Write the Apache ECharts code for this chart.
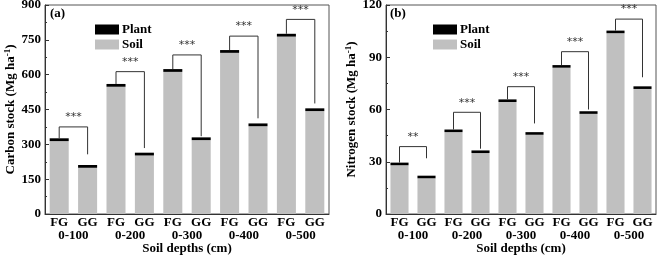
<!DOCTYPE html>
<html>
<head>
<meta charset="utf-8">
<script src="https://cdn.jsdelivr.net/npm/echarts@6/dist/echarts.min.js"></script>
<style>
  html, body { margin: 0; padding: 0; background: #fff; }
  #main { width: 658px; height: 255px; }
</style>
</head>
<body>
<div id="main"></div>
<script>
// 数据
var treatments = ['FG', 'GG', 'FG', 'GG', 'FG', 'GG', 'FG', 'GG', 'FG', 'GG'];
var depths = ['0-100', '0-200', '0-300', '0-400', '0-500'];
var seriesNames = ['Plant', 'Soil'];

// carbon (Mg ha-1)
var carbonTotal = [326, 211, 560, 264, 624, 330, 706, 390, 776, 455];
var carbonPlant = [12, 12, 12, 12, 12, 12, 12, 12, 12, 12];
var carbonBracketTop = [375, 613, 685, 766, 838];
var carbonBracketEnd = [257, 284, 335, 412, 476];
var carbonSig = ['***', '***', '***', '***', '***'];

// nitrogen (Mg ha-1)
var nitrogenTotal = [29.5, 22, 48.5, 36.5, 65.8, 47, 85.5, 59, 105.3, 73.3];
var nitrogenPlant = [1.5, 1.5, 1.5, 1.5, 1.5, 1.5, 1.5, 1.5, 1.5, 1.5];
var nitrogenBracketTop = [38.7, 58.4, 73.1, 93.2, 111.9];
var nitrogenBracketEnd = [32, 37.5, 52, 60, 78.5];
var nitrogenSig = ['**', '***', '***', '***', '***'];

var FONT = 'Liberation Serif';
var SOIL = '#c0c0c0';
var PLANT = '#000000';

function soilOf(total, plant) {
  return total.map(function (t, i) { return +(t - plant[i]).toFixed(2); });
}

function bracketData(total, top, end) {
  return depths.map(function (d, i) {
    return [2 * i, 2 * i + 1, total[2 * i], top[i], end[i]];
  });
}

function bracketSeries(idx, data, sig) {
  return {
    type: 'custom',
    xAxisIndex: idx * 2,
    yAxisIndex: idx,
    silent: true,
    z: 5,
    data: data,
    renderItem: function (params, api) {
      var p0 = api.coord([api.value(0), api.value(2)]);
      var p1 = api.coord([api.value(0), api.value(3)]);
      var p2 = api.coord([api.value(1), api.value(3)]);
      var p3 = api.coord([api.value(1), api.value(4)]);
      return {
        type: 'group',
        children: [
          {
            type: 'polyline',
            shape: { points: [p0, p1, p2, p3] },
            style: { stroke: '#333', lineWidth: 1, fill: null }
          },
          {
            type: 'text',
            x: (p1[0] + p2[0]) / 2,
            y: p1[1] - 4,
            style: {
              text: sig[params.dataIndex],
              fill: '#333',
              font: '11px "DejaVu Sans"',
              align: 'center',
              verticalAlign: 'bottom'
            }
          }
        ]
      };
    }
  };
}

var grids = [
  { left: 45, width: 284, top: 5, height: 209 },
  { left: 386, width: 270, top: 5, height: 209 }
];

function xAxes(gridIndex) {
  return [
    {
      type: 'category',
      gridIndex: gridIndex,
      data: treatments,
      axisLine: { lineStyle: { color: '#333', width: 1 } },
      axisTick: { show: false },
      axisLabel: { color: '#000', fontFamily: FONT, fontWeight: 'bold', fontSize: 13, margin: 2 }
    },
    {
      type: 'category',
      gridIndex: gridIndex,
      data: depths,
      position: 'bottom',
      offset: 13,
      axisLine: { show: false },
      axisTick: { show: false },
      axisLabel: { color: '#000', fontFamily: FONT, fontWeight: 'bold', fontSize: 13, margin: 2 },
      name: 'Soil depths (cm)',
      nameLocation: 'middle',
      nameGap: 15,
      nameMoveOverlap: false,
      nameTextStyle: { color: '#000', fontFamily: FONT, fontWeight: 'bold', fontSize: 13 }
    }
  ];
}

function yAxis(gridIndex, max, interval, label) {
  return {
    type: 'value',
    gridIndex: gridIndex,
    min: 0,
    max: max,
    interval: interval,
    axisLine: { show: true, lineStyle: { color: '#333', width: 1 } },
    axisTick: { show: true, inside: true, length: 4, lineStyle: { color: '#333' } },
    minorTick: { show: true, splitNumber: 2, length: 2, lineStyle: { color: '#333' } },
    splitLine: { show: false },
    axisLabel: { color: '#000', fontFamily: FONT, fontWeight: 'bold', fontSize: 13, margin: 4 },
    name: '{a|' + label + ' (Mg ha}{s|-1}{a|)}',
    nameLocation: 'middle',
    nameRotate: 90,
    nameGap: 27,
    nameMoveOverlap: false,
    nameTextStyle: {
      rich: {
        a: { color: '#000', fontFamily: FONT, fontWeight: 'bold', fontSize: 13 },
        s: { color: '#000', fontFamily: FONT, fontWeight: 'bold', fontSize: 9, verticalAlign: 'top', padding: [0, 0, 6, 0] }
      }
    }
  };
}

function barSeries(idx, soil, plant) {
  return [
    {
      name: 'Soil', type: 'bar', stack: 's' + idx,
      xAxisIndex: idx * 2, yAxisIndex: idx,
      barWidth: '67%',
      itemStyle: { color: SOIL },
      data: soil
    },
    {
      name: 'Plant', type: 'bar', stack: 's' + idx,
      xAxisIndex: idx * 2, yAxisIndex: idx,
      barWidth: '67%',
      itemStyle: { color: PLANT },
      data: plant
    }
  ];
}

function legend(left) {
  return {
    left: left, top: 18,
    orient: 'vertical',
    data: seriesNames,
    icon: 'rect',
    itemWidth: 24, itemHeight: 10, itemGap: 2,
    selectedMode: false,
    textStyle: { color: '#000', fontFamily: FONT, fontWeight: 'bold', fontSize: 13, padding: [0, 0, 0, -2] }
  };
}

var chart = echarts.init(document.getElementById('main'), null, { renderer: 'canvas' });
chart.setOption({
  animation: false,
  backgroundColor: '#fff',
  grid: grids.map(function (g) {
    return Object.assign({
      show: true, borderColor: '#555', borderWidth: 1, backgroundColor: 'transparent',
      containLabel: false, outerBoundsMode: 'none'
    }, g);
  }),
  legend: [legend(90), legend(428)],
  xAxis: xAxes(0).concat(xAxes(1)),
  yAxis: [
    yAxis(0, 900, 150, 'Carbon stock'),
    yAxis(1, 120, 30, 'Nitrogen stock')
  ],
  graphic: [
    { type: 'text', left: 50, top: 7, style: { text: '(a)', font: 'bold 13px "Liberation Serif"', fill: '#000' } },
    { type: 'text', left: 390, top: 7, style: { text: '(b)', font: 'bold 13px "Liberation Serif"', fill: '#000' } }
  ],
  series: []
    .concat(barSeries(0, soilOf(carbonTotal, carbonPlant), carbonPlant))
    .concat(barSeries(1, soilOf(nitrogenTotal, nitrogenPlant), nitrogenPlant))
    .concat([
      bracketSeries(0, bracketData(carbonTotal, carbonBracketTop, carbonBracketEnd), carbonSig),
      bracketSeries(1, bracketData(nitrogenTotal, nitrogenBracketTop, nitrogenBracketEnd), nitrogenSig)
    ])
});
</script>
</body>
</html>
